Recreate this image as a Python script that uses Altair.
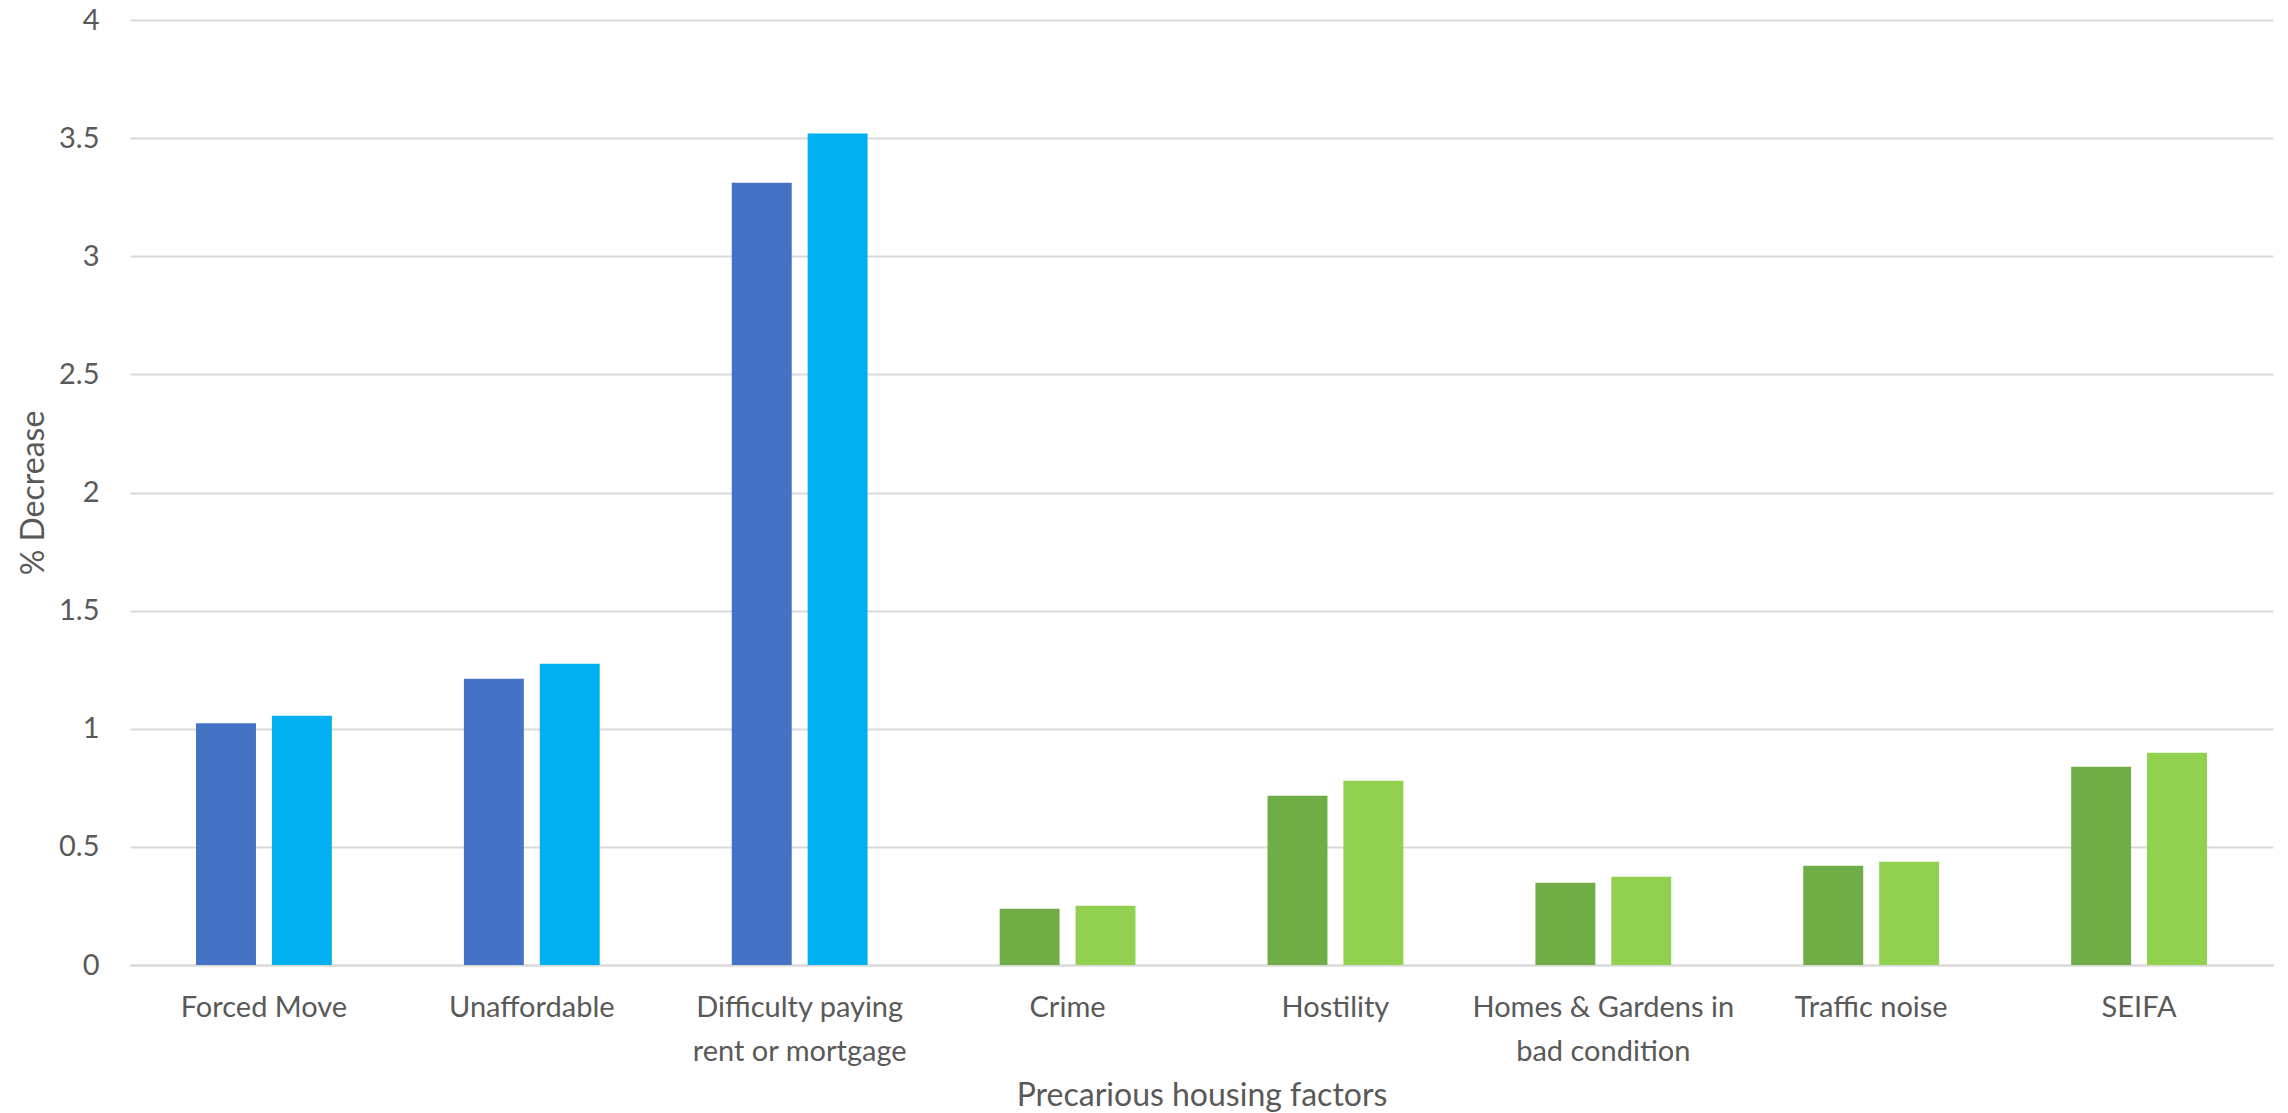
import altair as alt
import pandas as pd

# Precarious housing factors and their % decrease under the two models
categories = [
    "Forced Move",
    "Unaffordable",
    "Difficulty paying rent or mortgage",
    "Crime",
    "Hostility",
    "Homes & Gardens in bad condition",
    "Traffic noise",
    "SEIFA",
]
groups = ["Financial"] * 3 + ["Neighbourhood"] * 5
series_names = ["Model 1", "Model 2"]
model_1 = [1.023, 1.212, 3.311, 0.238, 0.716, 0.348, 0.420, 0.839]
model_2 = [1.055, 1.275, 3.520, 0.251, 0.780, 0.374, 0.437, 0.898]

# Axis labels that wrap onto two lines
wrapped_labels = {
    "Difficulty paying rent or mortgage": ["Difficulty paying", "rent or mortgage"],
    "Homes & Gardens in bad condition": ["Homes & Gardens in", "bad condition"],
}

y_ticks = [0, 0.5, 1, 1.5, 2, 2.5, 3, 3.5, 4]

color_keys = ["Financial|Model 1", "Financial|Model 2",
              "Neighbourhood|Model 1", "Neighbourhood|Model 2"]
color_values = ["#4472C4", "#00B0F0", "#70AD47", "#92D050"]

rows = []
for cat, grp, a, b in zip(categories, groups, model_1, model_2):
    for name, val in zip(series_names, (a, b)):
        rows.append({"factor": cat, "group": grp, "series": name,
                     "key": f"{grp}|{name}", "value": val})
df = pd.DataFrame(rows)

label_expr = "datum.label"
for full, lines in wrapped_labels.items():
    arr = "[" + ", ".join("'" + s + "'" for s in lines) + "]"
    label_expr = f"datum.label == '{full}' ? {arr} : ({label_expr})"

FONT = "Lato"
TEXT = "#595959"
GRID = "#D9D9D9"

PLOT_W = 2143
PLOT_H = 945

chart = alt.Chart(df).mark_bar().encode(
    x=alt.X(
        "factor:N",
        sort=categories,
        scale=alt.Scale(paddingInner=0.493, paddingOuter=0.2465),
        axis=alt.Axis(
            title="Precarious housing factors",
            labelAngle=0,
            labelExpr=label_expr,
            labelFont=FONT,
            labelFontSize=29,
            labelColor=TEXT,
            labelLineHeight=44,
            labelPadding=28,
            labelLimit=500,
            ticks=False,
            tickSize=0,
            domain=True,
            domainColor=GRID,
            domainWidth=2,
            grid=False,
            titleFont=FONT,
            titleFontSize=32,
            titleFontWeight="normal",
            titleColor=TEXT,
            titleBaseline="alphabetic",
            titleX=PLOT_W / 2,
            titleY=140,
            titleAlign="center",
        ),
    ),
    xOffset=alt.XOffset(
        "series:N",
        sort=series_names,
        scale=alt.Scale(paddingInner=0.21, paddingOuter=0),
    ),
    y=alt.Y(
        "value:Q",
        scale=alt.Scale(domain=[0, 4], nice=False, zero=True),
        axis=alt.Axis(
            title="% Decrease",
            values=y_ticks,
            format="~g",
            labelFont=FONT,
            labelFontSize=29,
            labelColor=TEXT,
            labelPadding=31,
            ticks=False,
            tickSize=0,
            domain=False,
            grid=True,
            gridColor=GRID,
            gridWidth=2,
            titleFont=FONT,
            titleFontSize=32,
            titleFontWeight="normal",
            titleColor=TEXT,
            titleAngle=270,
            titleBaseline="alphabetic",
            titleAlign="center",
            titleX=-87,
            titleY=PLOT_H / 2,
        ),
    ),
    color=alt.Color(
        "key:N",
        scale=alt.Scale(domain=color_keys, range=color_values),
        legend=None,
    ),
).properties(
    width=PLOT_W,
    height=PLOT_H,
    background="white",
    autosize=alt.AutoSizeParams(type="none"),
    padding={"left": 130, "top": 20, "right": 15, "bottom": 148},
).configure_view(
    stroke=None,
)

chart.save("out.html", embed_options={"renderer": "svg", "actions": False})
